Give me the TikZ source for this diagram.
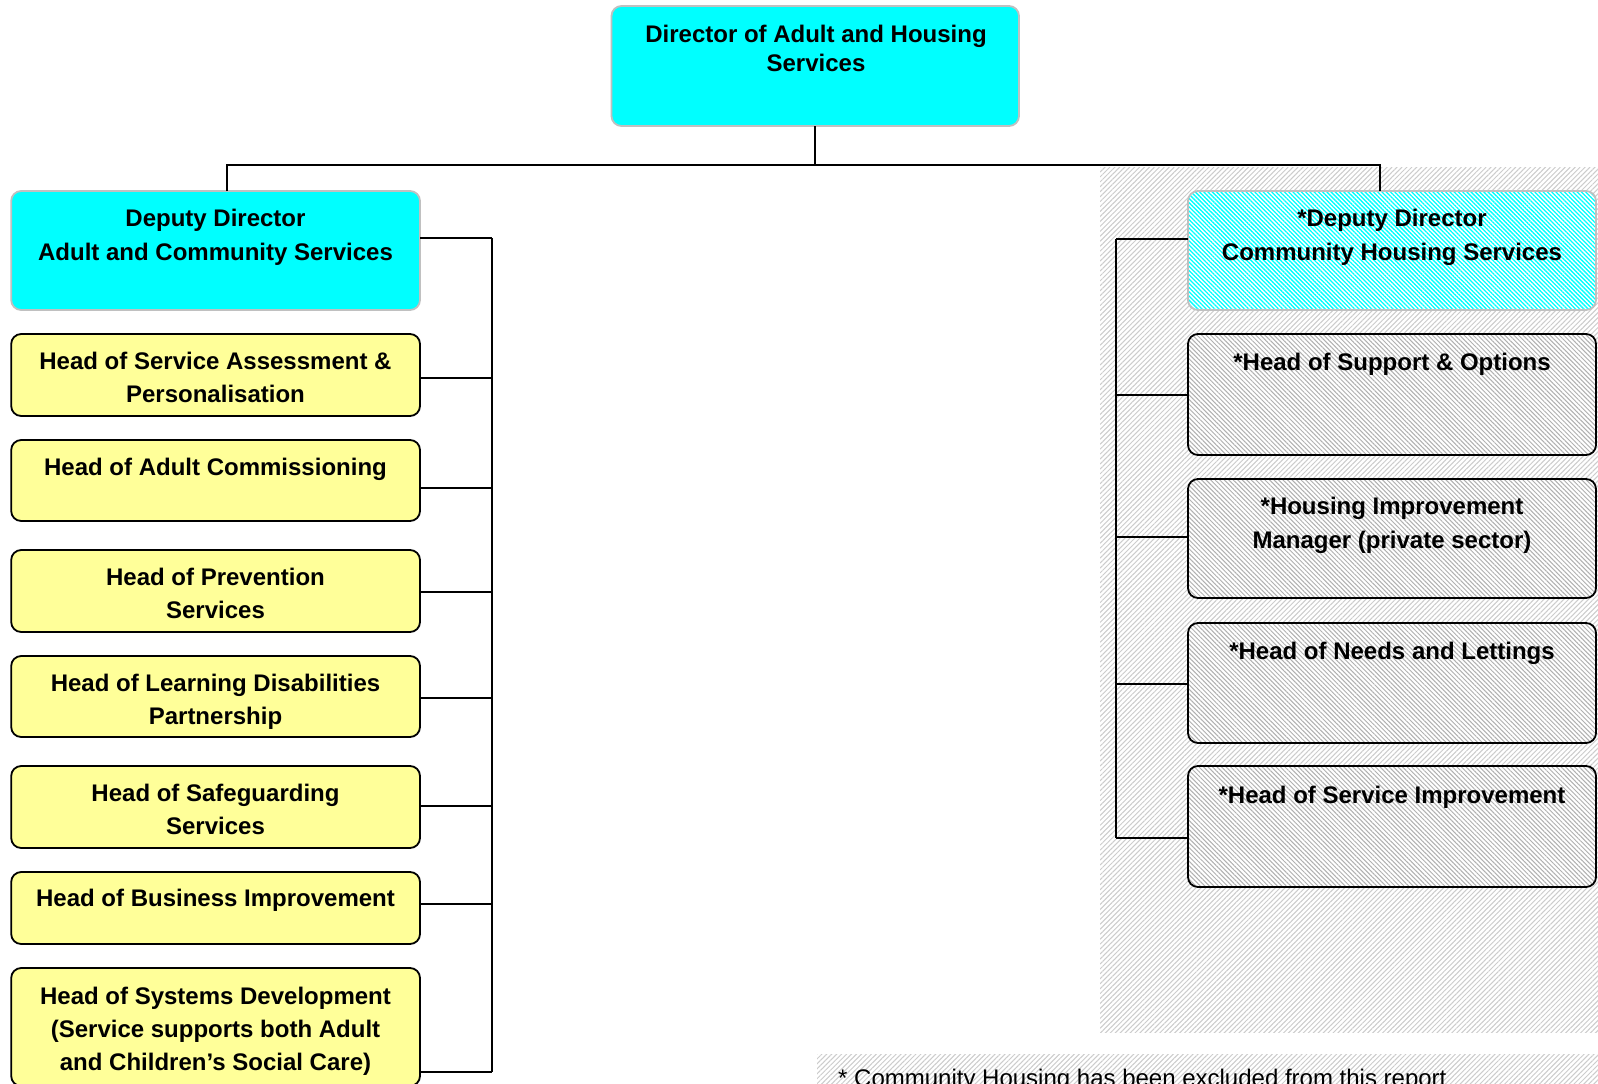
\documentclass[tikz,border=0pt]{standalone}
\usepackage{fontspec}
\setmainfont{Liberation Sans}
\usetikzlibrary{patterns.meta}
\definecolor{boxcyan}{HTML}{00FFFF}
\definecolor{boxyellow}{HTML}{FFFF99}
\definecolor{rimgray}{HTML}{C0C0C0}
\definecolor{hatchlight}{HTML}{CCCCCC}
\definecolor{hatchnode}{HTML}{B0B0B0}

% box given by its two corners: style, name, x1, y1, x2, y2
\newcommand{\orgbox}[6]{%
  \node[#1, minimum width={(#5)-(#3)}, minimum height={(#6)-(#4)}]
    (#2) at ({((#3)+(#5))/2},{((#4)+(#6))/2}) {};}

\begin{document}
\begin{tikzpicture}[x=1pt, y=-1pt,
  orgbase/.style={rectangle, rounded corners=10pt, inner sep=0pt, outer sep=0pt, line width=1.8pt},
  chiefbox/.style={orgbase, draw=rimgray, fill=boxcyan},
  headbox/.style={orgbase, draw=black, fill=boxyellow},
  housingbox/.style={orgbase, draw=black, preaction={fill=white},
    pattern={Lines[angle=-45, distance=3.2pt, line width=1pt]}, pattern color=hatchnode},
  housingdep/.style={orgbase, draw=rimgray, preaction={fill=white},
    pattern={Lines[angle=-45, distance=3pt, line width=1.3pt]}, pattern color=boxcyan},
  boxtext/.style={anchor=north, inner sep=0pt, outer sep=0pt, align=center,
    font=\fontsize{24}{33.5}\selectfont\bfseries},
  wire/.style={line width=1.8pt, draw=black},
  shaded/.style={pattern={Lines[angle=45, distance=3.5pt, line width=1pt]}, pattern color=hatchlight}
]
\useasboundingbox (0,0) rectangle (1598,1084);
\fill[white] (0,0) rectangle (1598,1084);

% hatched panels behind the housing column and the footnote
\fill[shaded] (1100,167) rectangle (1598,1032);
\fill[shaded] (817,1054) rectangle (1598,1084);

% director
\orgbox{chiefbox}{dir}{611.5}{6}{1019}{126}
\node[boxtext, font=\fontsize{24}{29}\selectfont\bfseries] (tdir) at (816,24.8)
  {Director of Adult and Housing\\Services};

% adult and community services column
\orgbox{chiefbox}{depL}{11.2}{191}{420}{310}
\orgbox{headbox}{sa}{11.2}{334}{420}{416}
\orgbox{headbox}{ac}{11.2}{440}{420}{521}
\orgbox{headbox}{pr}{11.2}{550}{420}{632}
\orgbox{headbox}{ld}{11.2}{656}{420}{737}
\orgbox{headbox}{sg}{11.2}{766}{420}{848}
\orgbox{headbox}{bi}{11.2}{872}{420}{944}
\orgbox{headbox}{sd}{11.2}{968}{420}{1086}

\node[boxtext] (tdepL) at (215.5,209.5) {Deputy Director\\Adult and Community Services};
\node[boxtext] (tsa) at (215.5,351.8) {Head of Service Assessment \&\\Personalisation};
\node[boxtext] (tac) at (215.5,457.8) {Head of Adult Commissioning};
\node[boxtext] (tpr) at (215.5,567.8) {Head of Prevention\\Services};
\node[boxtext] (tld) at (215.5,673.8) {Head of Learning Disabilities\\Partnership};
\node[boxtext] (tsg) at (215.5,783.8) {Head of Safeguarding\\Services};
\node[boxtext] (tbi) at (215.5,888.8) {Head of Business Improvement};
\node[boxtext, font=\fontsize{24}{33}\selectfont\bfseries] (tsd) at (215.5,986.8)
  {Head of Systems Development\\(Service supports both Adult\\and Children’s Social Care)};

% community housing column
\orgbox{housingdep}{depR}{1188}{191}{1596}{310}
\orgbox{housingbox}{so}{1188}{334}{1596}{455}
\orgbox{housingbox}{hi}{1188}{479}{1596}{598}
\orgbox{housingbox}{nl}{1188}{623}{1596}{743}
\orgbox{housingbox}{si}{1188}{766}{1596}{887}

\node[boxtext, font=\fontsize{24}{34}\selectfont\bfseries] (tdepR) at (1392,208.8)
  {*Deputy Director\\Community Housing Services};
\node[boxtext] (tso) at (1392,352.8) {*Head of Support \& Options};
\node[boxtext, font=\fontsize{24}{34}\selectfont\bfseries] (thi) at (1392,496.8)
  {*Housing Improvement\\Manager (private sector)};
\node[boxtext] (tnl) at (1392,641.8) {*Head of Needs and Lettings};
\node[boxtext] (tsi) at (1392,785.8) {*Head of Service Improvement};

% footnote
\node[anchor=base west, inner sep=0pt, font=\fontsize{24}{28}\selectfont] (note)
  at (838,1086.5) {* Community Housing has been excluded from this report};

% top-level connectors
\coordinate (jl) at (227,165);
\coordinate (jr) at (1380,165);
\draw[wire] (dir.south) -- (dir.south |- jl);
\draw[wire] (depL.north -| jl) -- (jl) -- (jr) -- (depR.north -| jr);

% left bus and branches
\coordinate (lbdepL) at (492,238);
\coordinate (lbsa) at (492,378);
\coordinate (lbac) at (492,488);
\coordinate (lbpr) at (492,592);
\coordinate (lbld) at (492,698);
\coordinate (lbsg) at (492,806);
\coordinate (lbbi) at (492,904);
\coordinate (lbsd) at (492,1072);
\draw[wire] (lbdepL) -- (lbsd);
\foreach \b in {depL,sa,ac,pr,ld,sg,bi,sd}
  \draw[wire] (\b.east |- lb\b) -- (lb\b);

% right bus and branches
\coordinate (rbdepR) at (1116,239);
\coordinate (rbso) at (1116,395);
\coordinate (rbhi) at (1116,537);
\coordinate (rbnl) at (1116,684);
\coordinate (rbsi) at (1116,838);
\draw[wire] (rbdepR) -- (rbsi);
\foreach \b in {depR,so,hi,nl,si}
  \draw[wire] (rb\b) -- (\b.west |- rb\b);
\end{tikzpicture}
\end{document}
